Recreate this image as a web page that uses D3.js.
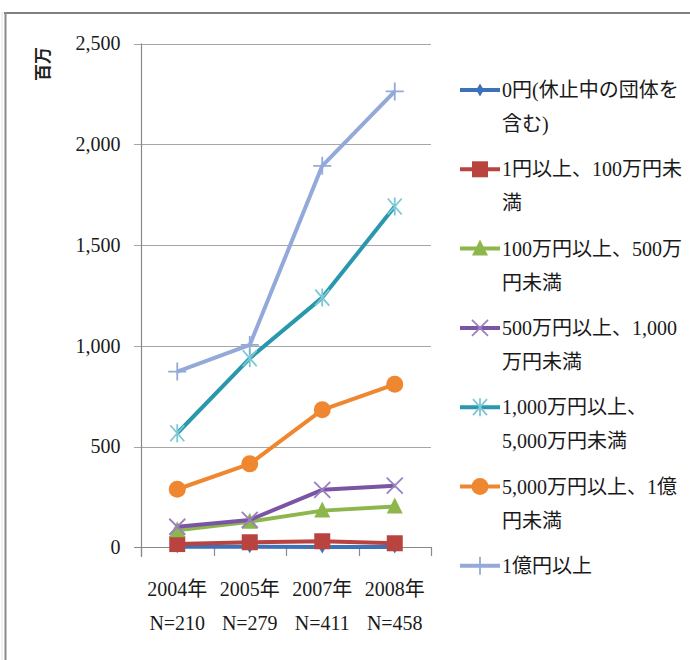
<!DOCTYPE html>
<html><head><meta charset="utf-8">
<script src="https://cdn.jsdelivr.net/npm/d3@7"></script>
<style>html,body{margin:0;padding:0;background:#fff;}svg{display:block;}</style>
</head><body>
<svg id="chart" width="690" height="660"></svg>
<script>
const years = ["2004年", "2005年", "2007年", "2008年"];
const counts = ["N=210", "N=279", "N=411", "N=458"];
const yTicks = [0, 500, 1000, 1500, 2000, 2500];

const s0yen   = [3, 3, 2, 2];
const s1yen   = [16, 25, 30, 20];
const s100man = [85, 127, 182, 202];
const s500man = [102, 136, 285, 306];
const s1000man = [566, 938, 1239, 1691];
const s5000man = [288, 414, 682, 809];
const s1oku  = [872, 1004, 1893, 2262];

const seriesNames = [
  ["0円(休止中の団体を", "含む)"],
  ["1円以上、100万円未", "満"],
  ["100万円以上、500万", "円未満"],
  ["500万円以上、1,000", "万円未満"],
  ["1,000万円以上、", "5,000万円未満"],
  ["5,000万円以上、1億", "円未満"],
  ["1億円以上"]
];
const seriesValues = [s0yen, s1yen, s100man, s500man, s1000man, s5000man, s1oku];
const lineColors = ["#3D72B8", "#B8433F", "#8DB64C", "#7A55A3", "#2A98AC", "#EE8730", "#93A9DA"];
const markerKinds = ["diamond", "square", "triangle", "x", "asterisk", "circle", "plus"];
const markerStroke = ["#3D72B8", "#B8433F", "#8DB64C", "#9A80C0", "#7CC7D6", "#EE8730", "#93A9DA"];

const svg = d3.select("#chart");
const serif = "'Liberation Serif', 'Noto Sans CJK JP', serif";

// frame
svg.append("line").attr("x1", 4).attr("x2", 690).attr("y1", 13).attr("y2", 13)
  .attr("stroke", "#7f7f7f").attr("stroke-width", 2);
svg.append("line").attr("x1", 5.5).attr("x2", 5.5).attr("y1", 12).attr("y2", 660)
  .attr("stroke", "#8a8a8a").attr("stroke-width", 2);
svg.append("line").attr("x1", 2).attr("x2", 2).attr("y1", 12).attr("y2", 660)
  .attr("stroke", "#e2e2e2").attr("stroke-width", 1);

const x = d3.scaleBand().domain(years).range([141, 431]);
const y = d3.scaleLinear().domain([0, 2500]).range([547.3, 43.5]);

// gridlines
svg.append("g").selectAll("line").data(yTicks).join("line")
  .attr("x1", 134).attr("x2", 431)
  .attr("y1", d => Math.round(y(d)) + 0.5).attr("y2", d => Math.round(y(d)) + 0.5)
  .attr("stroke", d => d === 0 ? "#888" : "#a6a6a6").attr("stroke-width", 1.2);

// y axis
const yAxis = d3.axisLeft(y).tickValues(yTicks).tickSize(0).tickPadding(21)
  .tickFormat(d3.format(","));
const gy = svg.append("g").attr("transform", "translate(141.5,0)").call(yAxis);
gy.select(".domain").attr("stroke", "#8a8a8a").attr("stroke-width", 1.2)
  .attr("d", `M0,${y(2500)}V557`);
gy.selectAll("text").attr("font-family", serif).attr("font-size", 20).attr("fill", "#1a1a1a");

// x axis ticks
const xb = years.map(d => x(d)).concat([431]);
svg.append("g").selectAll("line").data(xb).join("line")
  .attr("x1", d => Math.round(d) + 0.5).attr("x2", d => Math.round(d) + 0.5)
  .attr("y1", 547).attr("y2", 556).attr("stroke", "#8a8a8a").attr("stroke-width", 1.2);

const xl = svg.append("g");
years.forEach((yr, i) => {
  const cx = x(yr) + x.bandwidth() / 2;
  xl.append("text").attr("x", cx).attr("y", 596).attr("text-anchor", "middle")
    .attr("font-family", serif).attr("font-size", 20).attr("fill", "#1a1a1a").text(yr);
  xl.append("text").attr("x", cx).attr("y", 630).attr("text-anchor", "middle")
    .attr("font-family", serif).attr("font-size", 20).attr("fill", "#1a1a1a").text(counts[i]);
});

// y title
svg.append("text").attr("transform", "translate(49,64) rotate(-90)")
  .attr("text-anchor", "middle").attr("font-family", "'Noto Sans CJK JP', sans-serif")
  .attr("font-weight", "bold").attr("font-size", 17).attr("fill", "#222").text("百万");

function marker(g, kind, cx, cy, i) {
  const c = lineColors[i], sc = markerStroke[i];
  if (kind === "diamond") {
    g.append("path").attr("d", d3.symbol(d3.symbolDiamond, 50)())
      .attr("transform", `translate(${cx},${cy})`).attr("fill", c);
  } else if (kind === "square") {
    g.append("rect").attr("x", cx - 8).attr("y", cy - 8).attr("width", 16).attr("height", 16).attr("fill", c);
  } else if (kind === "triangle") {
    g.append("path").attr("d", `M${cx},${cy - 9}L${cx + 8},${cy + 7}L${cx - 8},${cy + 7}Z`).attr("fill", c);
  } else if (kind === "x") {
    g.append("path").attr("d", `M${cx - 8},${cy - 8}L${cx + 8},${cy + 8}M${cx - 8},${cy + 8}L${cx + 8},${cy - 8}`)
      .attr("stroke", sc).attr("stroke-width", 1.8).attr("fill", "none");
  } else if (kind === "asterisk") {
    g.append("path").attr("d", `M${cx - 7},${cy - 8}L${cx + 7},${cy + 8}M${cx - 7},${cy + 8}L${cx + 7},${cy - 8}M${cx},${cy - 9}V${cy + 9}`)
      .attr("stroke", sc).attr("stroke-width", 1.8).attr("fill", "none");
  } else if (kind === "circle") {
    g.append("circle").attr("cx", cx).attr("cy", cy).attr("r", 8.5).attr("fill", c);
  } else if (kind === "plus") {
    g.append("path").attr("d", `M${cx - 9},${cy}H${cx + 9}M${cx},${cy - 9}V${cy + 9}`)
      .attr("stroke", sc).attr("stroke-width", 1.8).attr("fill", "none");
  }
}

// series
const line = d3.line().x((d, i) => x(years[i]) + x.bandwidth() / 2).y(d => y(d));
seriesValues.forEach((vals, i) => {
  const g = svg.append("g");
  g.append("path").datum(vals).attr("d", line).attr("fill", "none")
    .attr("stroke", lineColors[i]).attr("stroke-width", 4).attr("stroke-linejoin", "round");
  vals.forEach((v, j) => marker(g, markerKinds[i], x(years[j]) + x.bandwidth() / 2, y(v), i));
});

// legend
const lg = svg.append("g");
seriesNames.forEach((lines, i) => {
  const cy = 90 + 79.3 * i;
  lg.append("line").attr("x1", 460).attr("x2", 500).attr("y1", cy).attr("y2", cy)
    .attr("stroke", lineColors[i]).attr("stroke-width", 4);
  marker(lg, markerKinds[i], 480, cy, i);
  lines.forEach((t, k) => {
    lg.append("text").attr("x", 502).attr("y", cy + 34 * k + 7)
      .attr("font-family", serif).attr("font-size", 20).attr("fill", "#1a1a1a").text(t);
  });
});
</script>
</body></html>
